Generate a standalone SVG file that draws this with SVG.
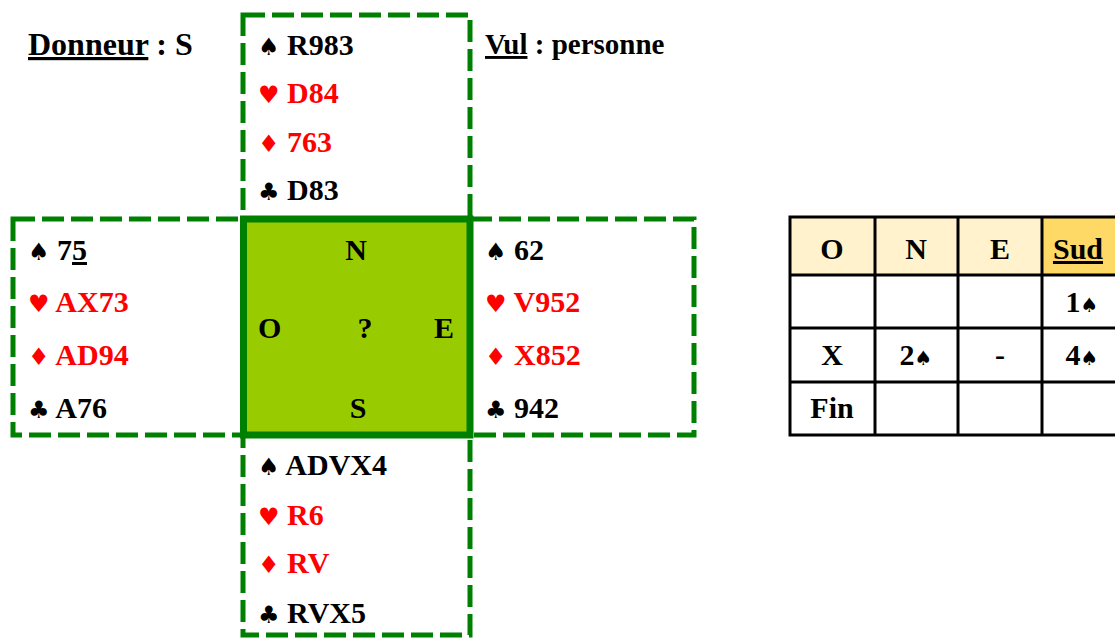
<svg xmlns="http://www.w3.org/2000/svg" width="1115" height="638" viewBox="0 0 1115 638">
<style>
text{font-family:"Liberation Serif","DejaVu Serif",serif;font-weight:bold;font-size:30px;fill:#000}
.r{fill:#FF0000}
.s{font-family:"DejaVu Sans","Liberation Serif",sans-serif;font-size:24px}
.dash{fill:none;stroke:#008000;stroke-width:5;stroke-dasharray:22 7}
.tb{font-size:30px}
.mid{text-anchor:middle}
</style>
<rect width="1115" height="638" fill="#fff"/>
<g id="info">
<text x="28" y="55" style="font-size:32px"><tspan text-decoration="underline">Donneur</tspan> : S</text>
<text x="485" y="54" style="font-size:29px"><tspan text-decoration="underline">Vul</tspan> : personne</text>
</g>
<g id="center">
<rect x="243.5" y="219" width="226.5" height="216" fill="#99CC00" stroke="#008000" stroke-width="7"/>
<text x="356" y="260" class="mid tb">N</text>
<text x="258" y="338" class="tb">O</text>
<text x="365" y="338" class="mid tb">?</text>
<text x="434" y="338" class="tb">E</text>
<text x="358" y="418" class="mid tb">S</text>
</g>
<g id="north">
<rect x="243" y="15" width="227" height="204" class="dash"/>
<text x="258" y="55"><tspan class="s">♠</tspan> R983</text>
<text x="258" y="103" class="r"><tspan class="s">♥</tspan> D84</text>
<text x="258" y="152" class="r"><tspan class="s">♦</tspan> 763</text>
<text x="258" y="200"><tspan class="s">♣</tspan> D83</text>
</g>
<g id="west">
<rect x="13" y="219" width="230" height="216" class="dash"/>
<text x="28" y="260"><tspan class="s">♠</tspan> 7<tspan text-decoration="underline">5</tspan></text>
<text x="28" y="312" class="r"><tspan class="s">♥</tspan> AX73</text>
<text x="28" y="365" class="r"><tspan class="s">♦</tspan> AD94</text>
<text x="28" y="418"><tspan class="s">♣</tspan> A76</text>
</g>
<g id="east">
<rect x="470" y="219" width="224" height="216" class="dash"/>
<text x="485" y="260"><tspan class="s">♠</tspan> 62</text>
<text x="485" y="312" class="r"><tspan class="s">♥</tspan> V952</text>
<text x="485" y="365" class="r"><tspan class="s">♦</tspan> X852</text>
<text x="485" y="418"><tspan class="s">♣</tspan> 942</text>
</g>
<g id="south">
<rect x="243" y="435" width="227" height="200" class="dash"/>
<text x="258" y="475"><tspan class="s">♠</tspan> ADVX4</text>
<text x="258" y="525" class="r"><tspan class="s">♥</tspan> R6</text>
<text x="258" y="573" class="r"><tspan class="s">♦</tspan> RV</text>
<text x="258" y="623"><tspan class="s">♣</tspan> RVX5</text>
</g>
<g id="bidding">
<rect x="790" y="217" width="252" height="58" fill="#FFF2CC"/>
<rect x="1042" y="217" width="80" height="58" fill="#FFD966"/>
<g stroke="#000" stroke-width="3" fill="none">
<rect x="790" y="217" width="335" height="218"/>
<line x1="790" y1="275" x2="1125" y2="275"/>
<line x1="790" y1="328" x2="1125" y2="328"/>
<line x1="790" y1="382" x2="1125" y2="382"/>
<line x1="875" y1="217" x2="875" y2="435"/>
<line x1="958" y1="217" x2="958" y2="435"/>
<line x1="1042" y1="217" x2="1042" y2="435"/>
</g>
<g>
<text x="832" y="259" class="mid tb">O</text>
<text x="916" y="259" class="mid tb">N</text>
<text x="1000" y="259" class="mid tb">E</text>
<text x="1078" y="259" class="mid tb"><tspan text-decoration="underline">Sud</tspan></text>
<text x="1082" y="312" class="mid tb">1<tspan class="s" style="font-size:20px">♠</tspan></text>
<text x="832" y="365" class="mid tb">X</text>
<text x="916" y="365" class="mid tb">2<tspan class="s" style="font-size:20px">♠</tspan></text>
<text x="1000" y="365" class="mid tb">-</text>
<text x="1082" y="365" class="mid tb">4<tspan class="s" style="font-size:20px">♠</tspan></text>
<text x="832" y="418" class="mid tb">Fin</text>
</g>
</g>
</svg>
